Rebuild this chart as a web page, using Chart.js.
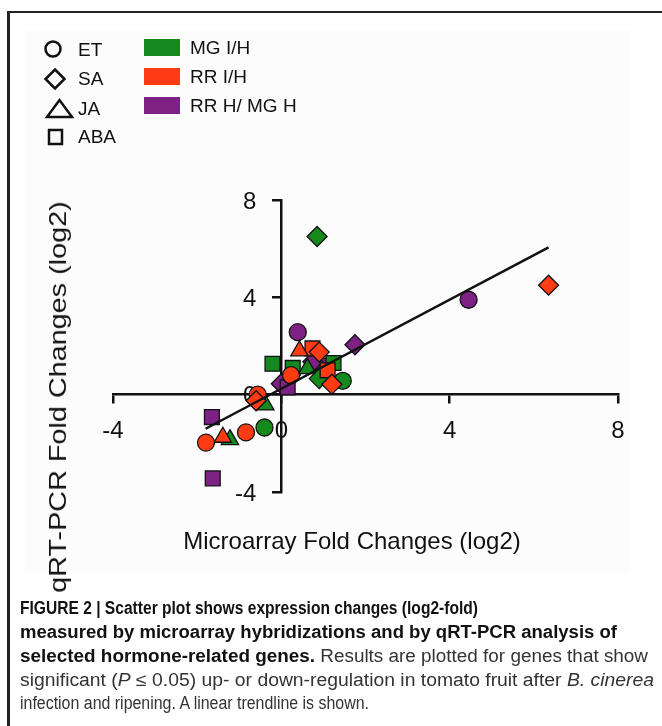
<!DOCTYPE html>
<html>
<head>
<meta charset="utf-8">
<script src="https://cdn.jsdelivr.net/npm/chart.js@4.4.1/dist/chart.umd.min.js"></script>
<style>
  body { margin: 0; background: #fff; }
  #page { position: relative; width: 662px; height: 726px; overflow: hidden; font-family: "Liberation Sans", Arial, sans-serif; color: #111; }
  #figbg { position: absolute; left: 25px; top: 30px; width: 605px; height: 542px; background: #fcfcfc; }
  .frameTop { position: absolute; left: 7px; top: 11px; width: 655px; height: 2px; background: #222; }
  .frameLeft { position: absolute; left: 7px; top: 11px; width: 3px; height: 715px; background: #222; }
  canvas { position: absolute; left: 0; top: 0; }
  .lg { position: absolute; font-size: 19px; line-height: 20px; white-space: nowrap; }
  .box { position: absolute; left: 144px; width: 36px; height: 17px; }
  #legendShapes { position: absolute; left: 0; top: 0; }
  .axTitle { position: absolute; font-size: 24px; line-height: 26px; white-space: nowrap; color: #111; }
  #yTitle { left: 58px; top: 397px; transform: translate(-50%, -50%) rotate(-90deg) scaleX(1.2); }
  #xTitle { left: 352px; top: 541px; transform: translate(-50%, -50%); }
  .capLine { position: absolute; left: 20px; display: inline-block; font-size: 18px; line-height: 24px; color: #333; white-space: nowrap; transform-origin: 0 0; }
  .capLine b { color: #111; }
</style>
</head>
<body>
<div id="page">
  <div id="figbg"></div>
  <canvas id="grafico" width="662" height="726"></canvas>
  <div class="frameTop"></div>
  <div class="frameLeft"></div>

  <svg id="legendShapes" width="200" height="160">
    <circle cx="53" cy="49" r="7.5" fill="none" stroke="#111" stroke-width="2.5"/>
    <polygon points="55,69.5 64.5,79 55,88.5 45.5,79" fill="none" stroke="#111" stroke-width="2.5"/>
    <polygon points="47,117 72,117 59.5,100" fill="none" stroke="#111" stroke-width="2.5"/>
    <rect x="49" y="130" width="13" height="14" fill="none" stroke="#111" stroke-width="2.5"/>
  </svg>
  <div class="lg" style="left:78px;top:40px">ET</div>
  <div class="lg" style="left:78px;top:69px">SA</div>
  <div class="lg" style="left:78px;top:99px">JA</div>
  <div class="lg" style="left:78px;top:127px">ABA</div>
  <div class="box" style="top:39px;background:#15891d"></div>
  <div class="box" style="top:68px;background:#ff3b14"></div>
  <div class="box" style="top:97px;background:#7d2185"></div>
  <div class="lg" style="left:190px;top:38px">MG I/H</div>
  <div class="lg" style="left:190px;top:67px">RR I/H</div>
  <div class="lg" style="left:190px;top:96px">RR H/ MG H</div>

  <div class="axTitle" id="yTitle">qRT-PCR Fold Changes (log2)</div>
  <div class="axTitle" id="xTitle">Microarray Fold Changes (log2)</div>

  <div class="capLine" data-w="458" style="top:596px"><b>FIGURE 2 | Scatter plot shows expression changes (log2-fold)</b></div>
  <div class="capLine" data-w="597" style="top:620px"><b>measured by microarray hybridizations and by qRT-PCR analysis of</b></div>
  <div class="capLine" data-w="628" style="top:644px"><b>selected hormone-related genes.</b> Results are plotted for genes that show</div>
  <div class="capLine" data-w="634" style="top:668px">significant (<i>P</i> ≤ 0.05) up- or down-regulation in tomato fruit after <i>B. cinerea</i></div>
  <div class="capLine" data-w="349" style="top:691px">infection and ripening. A linear trendline is shown.</div>
</div>

<script>
// Dados (log2)
const mgX = [0.85, -0.21, 0.27, 0.62, 1.24, 0.9, 1.46, -0.38, -0.4, -1.22];
const mgY = [6.5, 1.27, 1.1, 1.07, 1.3, 0.66, 0.57, -0.42, -1.35, -1.85];
const mgHormona = ['SA', 'ABA', 'ABA', 'JA', 'ABA', 'SA', 'ET', 'JA', 'ET', 'JA'];

const rrX = [6.35, 0.74, 0.43, 0.9, 0.23, 1.1, 1.2, -0.56, -0.6, -0.84, -1.39, -1.79];
const rrY = [4.5, 1.9, 1.8, 1.75, 0.8, 1.0, 0.43, 0.0, -0.25, -1.55, -1.75, -1.97];
const rrHormona = ['SA', 'ABA', 'JA', 'SA', 'ET', 'ABA', 'SA', 'ET', 'SA', 'ET', 'JA', 'ET'];

const rhX = [4.45, 0.39, 1.75, 0.98, 0.75, 0.0, 0.15, -1.65, -1.63];
const rhY = [3.9, 2.57, 2.05, 1.2, 1.35, 0.45, 0.3, -0.92, -3.44];
const rhHormona = ['ET', 'ET', 'SA', 'ABA', 'SA', 'SA', 'ABA', 'ABA', 'ABA'];

const trendX = [-1.8, 6.35];
const trendY = [-1.4, 6.05];

const eixoTicks = [-4, 0, 4, 8];

const estilos = { ET: 'circle', SA: 'rectRot', JA: 'triangle', ABA: 'rect' };
const raios = { ET: 8.5, SA: 10, JA: 10, ABA: 10.5 };

const fonte = "'Liberation Sans', Arial, sans-serif";

// legenda: cada linha ajustada à largura que tem na figura original
document.querySelectorAll('.capLine').forEach(el => {
  const w = el.getBoundingClientRect().width;
  el.style.transform = 'scaleX(' + (Number(el.dataset.w) / w) + ')';
});

function pontos(xs, ys) {
  return xs.map((x, i) => ({ x: x, y: ys[i] }));
}

function grupo(label, xs, ys, hormonas, cor) {
  return {
    label: label,
    data: pontos(xs, ys),
    pointStyle: hormonas.map(h => estilos[h]),
    pointRadius: hormonas.map(h => raios[h]),
    pointHoverRadius: hormonas.map(h => raios[h]),
    backgroundColor: cor,
    borderColor: '#111',
    borderWidth: 1.3
  };
}

// rótulos do eixo y ficam à esquerda do eixo (com position {x:0} o Chart.js os desenha em cima da linha)
const rotulosEixoY = {
  id: 'rotulosEixoY',
  beforeDatasetsDraw(chart) {
    const sx = chart.scales.x, sy = chart.scales.y, c = chart.ctx;
    const xr = sx.getPixelForValue(0) - 25;
    c.save();
    c.font = '24px ' + fonte;
    c.fillStyle = '#111';
    c.textAlign = 'right';
    c.textBaseline = 'middle';
    eixoTicks.forEach(v => c.fillText(String(v), xr, sy.getPixelForValue(v) + 2));
    c.restore();
  }
};

const ctx = document.getElementById('grafico').getContext('2d');
new Chart(ctx, {
  type: 'scatter',
  data: {
    datasets: [
      {
        label: 'Trendline',
        data: pontos(trendX, trendY),
        showLine: true,
        borderColor: '#111',
        borderWidth: 2.5,
        pointRadius: 0,
        fill: false
      },
      grupo('RR I/H', rrX, rrY, rrHormona, '#ff3b14'),
      grupo('MG I/H', mgX, mgY, mgHormona, '#15891d'),
      grupo('RR H/ MG H', rhX, rhY, rhHormona, '#7d2185')
    ]
  },
  options: {
    responsive: false,
    animation: false,
    devicePixelRatio: 1,
    layout: { padding: { left: 113, right: 44, top: 200, bottom: 234 } },
    scales: {
      x: {
        type: 'linear',
        min: -4, max: 8,
        position: { y: 0 },
        afterBuildTicks: axis => { axis.ticks = eixoTicks.map(v => ({ value: v })); },
        ticks: { color: '#111', font: { size: 24, family: fonte }, padding: 14, maxRotation: 0 },
        grid: { drawOnChartArea: false, drawTicks: true, tickLength: 8, color: '#111', lineWidth: 2.5 },
        border: { color: '#111', width: 2.5 }
      },
      y: {
        type: 'linear',
        min: -4, max: 8,
        position: { x: 0 },
        afterBuildTicks: axis => { axis.ticks = eixoTicks.map(v => ({ value: v })); },
        ticks: { display: false },
        grid: { drawOnChartArea: false, drawTicks: true, tickLength: 8, color: '#111', lineWidth: 2.5 },
        border: { color: '#111', width: 2.5 }
      }
    },
    plugins: {
      legend: { display: false },
      tooltip: { enabled: false }
    }
  },
  plugins: [rotulosEixoY]
});
</script>
</body>
</html>
